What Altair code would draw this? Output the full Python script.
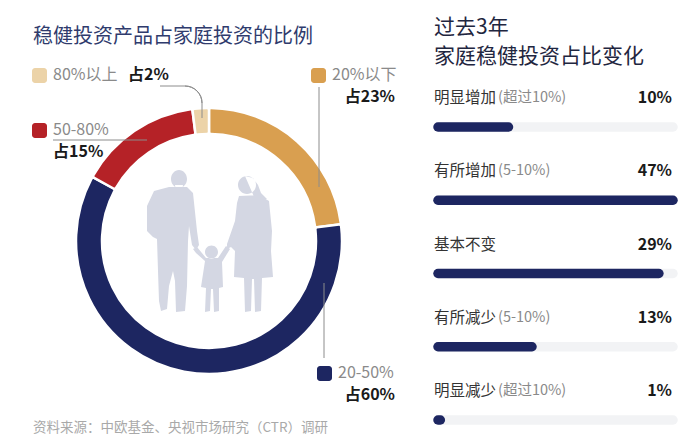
import altair as alt
import pandas as pd

FONT = "Noto Sans CJK SC"

# ---------------- data ----------------
pie_cats = ["20%以下", "20-50%", "50-80%", "80%以上"]
pie_vals = [23, 60, 15, 2]
pie_labels = ["占23%", "占60%", "占15%", "占2%"]
pie_colors = ["#d99f50", "#1d2661", "#b52227", "#ecd3a8"]

bar_cats = ["明显增加", "有所增加", "基本不变", "有所减少", "明显减少"]
bar_subs = ["(超过10%)", "(5-10%)", "", "(5-10%)", "(超过10%)"]
bar_vals = [10, 47, 29, 13, 1]
bar_len = [0.30, 1.0, 0.94, 0.40, 0.01]   # drawn bar length

left_title = "稳健投资产品占家庭投资的比例"
right_title = ["过去3年", "家庭稳健投资占比变化"]
source = "资料来源：中欧基金、央视市场研究（CTR）调研"

# ---------------- layout (style) ----------------
CX, CY = 201, 233
legend_layout = {
    # square (x0, y0), category text (x, y, align), share text (x, y, align)
    "80%以上": ((24, 60), (45, 67, "left"), (120, 67, "left")),
    "20%以下": ((303, 60), (324, 67, "left"), (387, 89, "right")),
    "50-80%": ((24, 115), (45, 122, "left"), (45, 144, "left")),
    "20-50%": ((309, 358), (330, 365, "left"), (387, 387, "right")),
}
LINE = "#8c8c8c"

pie_df = pd.DataFrame({"cat": pie_cats, "val": pie_vals, "lab": pie_labels,
                       "idx": list(range(len(pie_cats)))})
cscale = alt.Scale(domain=pie_cats, range=pie_colors)
one = pd.DataFrame({"a": [0]})

layers = []

# silhouette of a family (decoration)
man = ("M -55 -50 L -40 -54 L -22 -54 L -16 -48 L -12 -10 L -10 4 L -13 9 L -17 4 "
       "L -20 -15 L -21 0 L -22 45 L -24 70 L -33 71 L -34 40 L -36 30 L -40 45 "
       "L -42 68 L -48 70 L -50 60 L -51 30 L -52 -2 L -56 -4 L -62 -10 L -62 -35 Z "
       "M -38 -62 A 8 9 0 1 0 -22 -62 A 8 9 0 1 0 -38 -62 Z "
       "M -34 -56 L -26 -56 L -27 -50 L -33 -50 Z")
woman = ("M 30 -45 L 50 -46 L 60 -40 L 63 -10 L 62 10 L 64 36 L 53 37 L 52 70 "
         "L 46 71 L 45 38 L 43 38 L 42 70 L 36 71 L 35 37 L 25 36 L 26 10 L 22 6 "
         "L 18 8 L 18 3 L 26 -20 L 28 -38 Z "
         "M 29 -56 A 9 9 0 1 0 47 -56 A 9 9 0 1 0 29 -56 Z "
         "M 36 -65 L 44 -63 L 49 -56 L 52 -48 L 58 -42 L 46 -42 Z")
child = ("M -4 20 L -13 12 L -16 8 L -12 6 L -3 17 L 9 17 L 17 5 L 21 8 L 13 21 "
         "L 14 46 L 10 47 L 10 70 L 5 71 L 4 48 L 2 48 L 1 70 L -4 71 L -3 47 L -8 46 Z "
         "M -4 11 A 6.5 6.5 0 1 0 9 11 A 6.5 6.5 0 1 0 -4 11 Z")
for p in (man, woman, child):
    layers.append(alt.Chart(one).mark_point(shape=p, size=4, filled=True, color="#d4d7e3",
                                            opacity=1, strokeWidth=0)
                  .encode(x=alt.value(CX), y=alt.value(CY)))

# donut
layers.append(
    alt.Chart(pie_df).mark_arc(radius=133, radius2=107, stroke="white", strokeWidth=2.5,
                               cornerRadius=2)
    .encode(theta=alt.Theta("val:Q", stack=True), order=alt.Order("idx:Q"),
            color=alt.Color("cat:N", scale=cscale, legend=None),
            x=alt.value(CX), y=alt.value(CY))
)

# leader lines
def rule(x, y, x2, y2):
    return alt.Chart(one).mark_rule(color=LINE, strokeWidth=1).encode(
        x=alt.value(x), y=alt.value(y), x2=alt.value(x2), y2=alt.value(y2))

layers += [rule(311, 79, 311, 179), rule(45, 132, 139, 132), rule(316, 275, 316, 350),
           rule(152, 78, 177, 78), rule(194, 95, 194, 110)]
layers.append(alt.Chart(one).mark_arc(radius=17, radius2=17, theta=0, theta2=1.5708,
                                      fillOpacity=0, stroke=LINE, strokeWidth=1)
              .encode(x=alt.value(177), y=alt.value(95)))

# legend items
for c, (sq, ct, st) in legend_layout.items():
    base = alt.Chart(pie_df).transform_filter(alt.datum.cat == c)
    layers.append(base.mark_rect(cornerRadius=3).encode(
        x=alt.value(sq[0]), x2=alt.value(sq[0] + 15), y=alt.value(sq[1]), y2=alt.value(sq[1] + 15),
        color=alt.Color("cat:N", scale=cscale, legend=None)))
    layers.append(base.mark_text(font=FONT, fontSize=16, color="#8a8a8a", align=ct[2],
                                 baseline="middle").encode(
        text="cat:N", x=alt.value(ct[0]), y=alt.value(ct[1])))
    layers.append(base.mark_text(font=FONT, fontSize=16, fontWeight="bold", color="#1a1a1a",
                                 align=st[2], baseline="middle").encode(
        text="lab:N", x=alt.value(st[0]), y=alt.value(st[1])))

# titles / source
layers.append(alt.Chart(pd.DataFrame({"t": [left_title]})).mark_text(
    font=FONT, fontSize=20, color="#2f3b6d", align="left", baseline="middle")
    .encode(text="t:N", x=alt.value(25), y=alt.value(29)))
layers.append(alt.Chart(pd.DataFrame({"t": [source]})).mark_text(
    font=FONT, fontSize=13.5, color="#a9a9a9", align="left", baseline="middle")
    .encode(text="t:N", x=alt.value(25), y=alt.value(420)))

left = alt.layer(*layers).properties(width=410, height=429)

# ---------------- right panel ----------------
bar_df = pd.DataFrame({"cat": bar_cats, "sub": bar_subs, "val": bar_vals, "len": bar_len,
                       "idx": list(range(len(bar_cats))), "zero": 0.0, "full": 1.0})
xs = alt.Scale(domain=[0, 1], range=[20, 255])
ys = alt.Scale(domain=[0, 4], range=[119, 412], zero=False, nice=False)
rb = alt.Chart(bar_df)

track = rb.mark_rule(strokeWidth=9.5, strokeCap="round", color="#f2f3f5").encode(
    x=alt.X("zero:Q", scale=xs, axis=None), x2="full:Q",
    y=alt.Y("idx:Q", scale=ys, axis=None))
bars = rb.mark_rule(strokeWidth=9.5, strokeCap="round", color="#1d2661").encode(
    x=alt.X("zero:Q", scale=xs, axis=None), x2="len:Q",
    y=alt.Y("idx:Q", scale=ys, axis=None))
lab = rb.mark_text(font=FONT, fontSize=15.5, color="#333333", align="left", baseline="middle",
                   dy=-29).encode(text="cat:N", x=alt.value(16),
                                  y=alt.Y("idx:Q", scale=ys, axis=None))
sub = rb.mark_text(font=FONT, fontSize=14.5, color="#8a8a8a", align="left", baseline="middle",
                   dy=-29).encode(text="sub:N", x=alt.value(80),
                                  y=alt.Y("idx:Q", scale=ys, axis=None))
val = rb.transform_calculate(vt="datum.val + '%'").mark_text(
    font=FONT, fontSize=16, fontWeight="bold", color="#1a1a1a", align="right",
    baseline="middle", dy=-29).encode(text="vt:N", x=alt.value(254),
                                      y=alt.Y("idx:Q", scale=ys, axis=None))
rt = []
for i, t in enumerate(right_title):
    rt.append(alt.Chart(pd.DataFrame({"t": [t]})).mark_text(
        font=FONT, fontSize=21, color="#1f2640", align="left", baseline="middle")
        .encode(text="t:N", x=alt.value(16), y=alt.value(20 + 29 * i)))

right = alt.layer(track, bars, lab, sub, val, *rt).properties(width=269, height=429)

chart = (alt.hconcat(left, right, spacing=0)
         .properties(padding=0)
         .configure_view(stroke=None))
chart.save("out.html", embed_options={"renderer": "svg", "actions": False})
